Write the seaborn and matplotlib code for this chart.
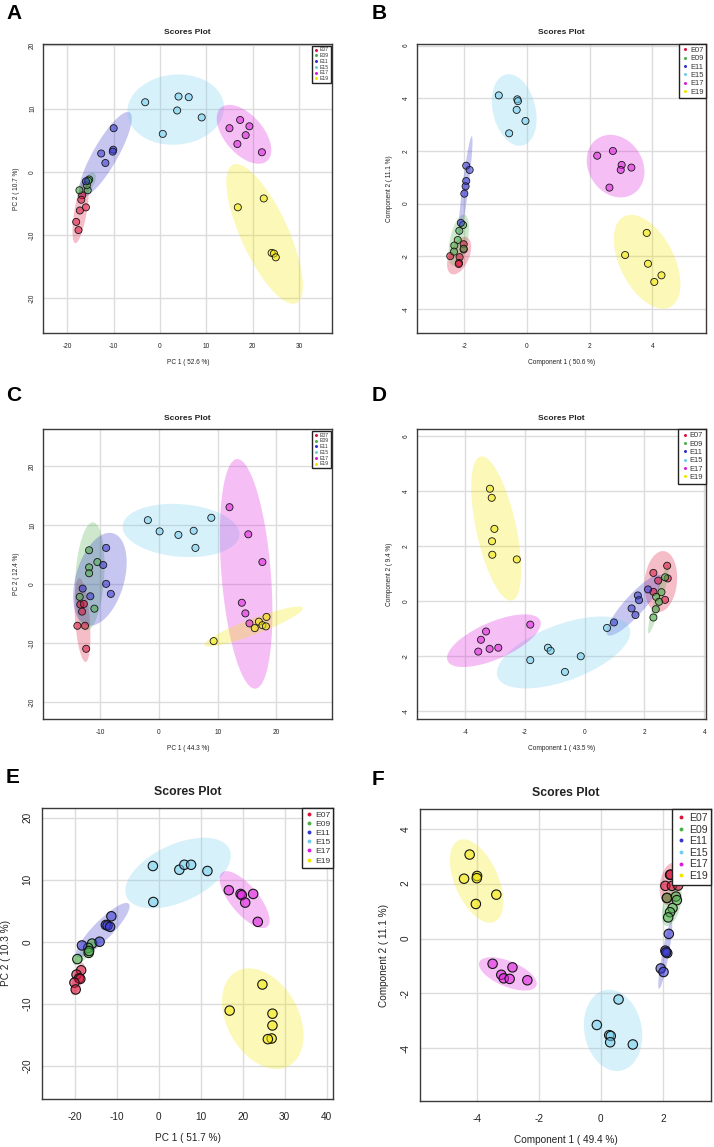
import numpy as np
import pandas as pd
import matplotlib
matplotlib.use("Agg")
import matplotlib.pyplot as plt
from matplotlib.colors import to_rgba
from matplotlib.lines import Line2D
import seaborn as sns

groups = ["E07", "E09", "E11", "E15", "E17", "E19"]
colors = ["#DC143C", "#4DAF4A", "#3535CF", "#72CDEE", "#DD1ADD", "#F2E600"]

# A: PCA
a_counts = [6, 5, 6, 6, 6, 5]
a_x = [-16.8, -17.0, -17.3, -16.0, -18.1, -17.6,
       -17.4, -15.6, -15.8, -15.3, -15.5,
       -10.0, -12.7, -10.1, -10.2, -11.8, -16.0,
       -3.2, 4.0, 6.2, 3.7, 9.0, 0.6,
       15.0, 17.3, 19.3, 18.5, 16.7, 22.0,
       16.8, 22.4, 24.1, 24.6, 25.0]
a_y = [-3.7, -4.4, -6.1, -5.6, -7.9, -9.2,
       -2.9, -2.9, -2.1, -1.2, -1.4,
       6.9, 2.9, 3.5, 3.2, 1.4, -1.5,
       11.0, 11.9, 11.8, 9.7, 8.6, 6.0,
       6.9, 8.2, 7.2, 5.8, 4.4, 3.1,
       -5.6, -4.2, -12.8, -12.9, -13.5]

# B: PLS-DA
b_counts = [6, 6, 6, 6, 6, 5]
b_x = [-2.02, -2.45, -2.15, -2.17, -2.18, -2.02,
       -2.04, -2.16, -2.21, -2.32, -2.33, -2.02,
       -1.94, -1.83, -1.94, -1.96, -2.00, -2.11,
       -0.90, -0.31, -0.29, -0.33, -0.05, -0.57,
       2.24, 2.74, 3.02, 2.99, 3.33, 2.63,
       3.82, 3.13, 3.86, 4.29, 4.06]
b_y = [-1.54, -1.99, -2.03, -2.25, -2.29, -1.74,
       -0.81, -1.03, -1.38, -1.59, -1.82, -1.71,
       1.44, 1.28, 0.86, 0.66, 0.38, -0.73,
       4.11, 3.96, 3.89, 3.56, 3.14, 2.67,
       1.82, 2.00, 1.47, 1.28, 1.37, 0.61,
       -1.11, -1.95, -2.28, -2.72, -2.97]

# C: PCA
c_counts = [6, 6, 6, 6, 6, 6]
c_x = [-13.9, -12.6, -12.4, -13.4, -12.8, -13.1,
       -11.9, -11.9, -11.9, -10.5, -13.5, -11.0,
       -9.0, -9.5, -9.0, -8.2, -11.7, -13.0,
       -1.9, 0.1, 3.3, 5.9, 6.2, 8.9,
       12.0, 15.2, 17.6, 14.1, 14.7, 15.4,
       9.3, 17.0, 18.3, 17.6, 18.2, 16.3]
c_y = [-7.0, -7.0, -10.9, -3.4, -3.3, -4.6,
       5.8, 2.9, 1.9, 3.8, -2.1, -4.1,
       6.2, 3.3, 0.1, -1.6, -2.0, -0.7,
       10.9, 9.0, 8.4, 9.1, 6.2, 11.3,
       13.1, 8.5, 3.8, -3.1, -4.9, -6.6,
       -9.6, -6.3, -5.5, -6.9, -7.1, -7.4]

# D: PLS-DA
d_counts = [6, 6, 6, 6, 6, 6]
d_x = [2.30, 2.76, 2.78, 2.46, 2.30, 2.69,
       2.69, 2.57, 2.39, 2.49, 2.38, 2.30,
       0.98, 1.57, 1.70, 1.78, 1.82, 2.12,
       -1.82, -1.23, -1.14, -0.66, -0.13, 0.75,
       -3.30, -3.47, -3.56, -3.18, -2.89, -1.82,
       -3.17, -3.11, -3.02, -3.10, -3.09, -2.27]
d_y = [1.03, 1.29, 0.83, 0.75, 0.34, 0.05,
       0.87, 0.33, 0.16, -0.02, -0.29, -0.59,
       -0.77, -0.26, -0.50, 0.21, 0.04, 0.43,
       -2.14, -1.69, -1.80, -2.57, -2.00, -0.97,
       -1.10, -1.40, -1.83, -1.73, -1.69, -0.85,
       4.09, 3.76, 2.63, 2.18, 1.69, 1.52]

# E: PCA
e_counts = [6, 5, 6, 6, 6, 6]
e_x = [-18.5, -19.6, -19.0, -18.7, -20.1, -19.8,
       -19.4, -15.9, -16.8, -16.7, -16.6,
       -18.3, -14.1, -11.3, -12.6, -12.2, -11.6,
       -1.4, -1.3, 4.9, 6.1, 7.7, 11.6,
       16.7, 19.5, 19.8, 22.5, 20.6, 23.6,
       24.7, 16.9, 27.1, 27.1, 26.9, 26.0]
e_y = [-4.6, -5.3, -5.9, -6.0, -6.6, -7.7,
       -2.8, -0.3, -1.0, -1.8, -1.5,
       -0.6, 0.0, 4.1, 2.7, 2.6, 2.4,
       12.2, 6.4, 11.6, 12.4, 12.4, 11.4,
       8.3, 7.7, 7.5, 7.7, 6.3, 3.2,
       -6.9, -11.1, -11.6, -13.5, -15.6, -15.7]

# F: PLS-DA
f_counts = [6, 6, 6, 6, 6, 6]
f_x = [2.23, 2.25, 2.08, 2.29, 2.49, 2.13,
       2.13, 2.42, 2.45, 2.31, 2.23, 2.17,
       2.19, 2.08, 2.14, 2.10, 1.93, 2.02,
       -0.13, 0.57, 0.27, 0.32, 0.30, 1.03,
       -3.49, -3.21, -3.13, -2.94, -2.85, -2.37,
       -4.23, -4.41, -3.99, -4.00, -4.03, -3.37]
f_y = [2.32, 2.33, 1.92, 1.92, 1.93, 1.48,
       1.48, 1.53, 1.40, 1.11, 0.96, 0.77,
       0.17, -0.44, -0.53, -0.50, -1.09, -1.22,
       -3.15, -2.22, -3.52, -3.55, -3.78, -3.86,
       -0.92, -1.32, -1.45, -1.47, -1.05, -1.52,
       3.06, 2.18, 2.28, 2.20, 1.26, 1.60]

x_labels = ["PC 1 ( 52.6 %)", "Component 1 ( 50.6 %)", "PC 1 ( 44.3 %)",
            "Component 1 ( 43.5 %)", "PC 1 ( 51.7 %)", "Component 1 ( 49.4 %)"]
y_labels = ["PC 2 ( 10.7 %)", "Component 2 ( 11.1 %)", "PC 2 ( 12.4 %)",
            "Component 2 ( 9.4 %)", "PC 2 ( 10.3 %)", "Component 2 ( 11.1 %)"]

sns.set_style("white")
plt.rcParams["font.family"] = ["Liberation Sans", "DejaVu Sans"]

W, H = 714, 1147
fig = plt.figure(figsize=(W / 100, H / 100), dpi=100)


def ellipse(x, y, level=0.95, n=120):
    # same as R ellipse::ellipse on the covariance matrix
    cov = np.cov(x, y)
    t = np.sqrt(-2 * np.log(1 - level))
    vals, vecs = np.linalg.eigh(cov)
    th = np.linspace(0, 2 * np.pi, n)
    circ = np.vstack([np.cos(th), np.sin(th)]) * np.sqrt(np.clip(vals, 0, None))[:, None]
    pts = vecs @ circ * t
    return pts[0] + np.mean(x), pts[1] + np.mean(y)


def panel(box, xs, ys, counts, xlab, ylab, xlim, ylim, xticks, yticks,
          letter, letter_xy, big):
    l, t, r, b = box
    ax = fig.add_axes([l / W, 1 - b / H, (r - l) / W, (b - t) / H])
    df = pd.DataFrame({"x": xs, "y": ys, "group": np.repeat(groups, counts)})

    for g, c in zip(groups, colors):
        sub = df[df["group"] == g]
        ex, ey = ellipse(sub["x"].values, sub["y"].values)
        ax.fill(ex, ey, color=c, alpha=0.28, lw=0, zorder=1)

    pal = {g: to_rgba(c, 0.55) for g, c in zip(groups, colors)}
    sns.scatterplot(data=df, x="x", y="y", hue="group", palette=pal,
                    s=46 if big else 26, edgecolor="#151515",
                    linewidth=0.8 if big else 0.6, legend=False, ax=ax, zorder=3)

    ax.set_xlim(xlim)
    ax.set_ylim(ylim)
    ax.set_xticks(xticks)
    ax.set_yticks(yticks)
    ax.set_xticklabels([f"{v:g}" for v in xticks])
    ax.set_yticklabels([f"{v:g}" for v in yticks])
    ax.grid(True, color="#dcdcdc", lw=1.0, zorder=0)
    ax.set_axisbelow(True)
    for sp in ax.spines.values():
        sp.set_color("#3a3a3a")
        sp.set_linewidth(1.0)
    ax.set_xlabel("")
    ax.set_ylabel("")

    fs = 7.2 if big else 4.7
    ax.tick_params(direction="out", length=3 if big else 2.2, width=0.8,
                   color="#3a3a3a", labelsize=fs, labelcolor="#222222")
    ax.tick_params(axis="x", pad=6 if big else 5)
    ax.tick_params(axis="y", pad=3.5 if big else 3)
    for lab in ax.get_yticklabels():
        lab.set_rotation(90)
        lab.set_va("center")

    cx = (l + r) / 2
    fig.text(cx / W, 1 - (t - (16 if big else 11)) / H, "Scores Plot",
             ha="center", va="center", fontsize=8.8 if big else 6,
             fontweight="bold", color="#222222")
    fig.text(cx / W, 1 - (b + (39 if big else 29)) / H, xlab,
             ha="center", va="center", fontsize=fs, color="#222222")
    ylx = l - (36 if big else 27)
    fig.text(ylx / W, 1 - ((t + b) / 2) / H, ylab, rotation=90,
             ha="center", va="center", fontsize=fs, color="#222222")
    fig.text(letter_xy[0] / W, 1 - letter_xy[1] / H, letter, ha="left",
             va="top", fontsize=15, fontweight="bold", color="black")

    handles = [Line2D([], [], ls="", marker="o", markersize=2.8 if big else 2.2,
                      markerfacecolor=c, markeredgewidth=0) for c in colors]
    lfs = {"A": 3.7, "C": 3.7, "B": 5.4, "D": 5.4, "E": 6.1, "F": 7.6}[letter]
    leg = ax.legend(handles, groups, loc="upper right", fontsize=lfs,
                    frameon=True, fancybox=False, framealpha=1,
                    borderaxespad=0 if letter not in "AC" else 0.3,
                    borderpad=0.35, labelspacing=0.15, handlelength=1.0,
                    handletextpad=0.2)
    leg.get_frame().set_edgecolor("#222222")
    leg.get_frame().set_linewidth(1.0)
    for txt in leg.get_texts():
        txt.set_color("#333333")
    leg.set_zorder(5)
    return ax


panel((43.3, 44, 332.3, 333.3), a_x, a_y, a_counts, x_labels[0], y_labels[0],
      (-25.2, 37.2), (-25.5, 20.2), [-20, -10, 0, 10, 20, 30], [-20, -10, 0, 10, 20],
      "A", (6, 4), False)
panel((417, 44, 706.3, 333.3), b_x, b_y, b_counts, x_labels[1], y_labels[1],
      (-3.51, 5.72), (-4.92, 6.06), [-2, 0, 2, 4], [-4, -2, 0, 2, 4, 6],
      "B", (372, 4), False)
panel((43.3, 429.3, 332.3, 719), c_x, c_y, c_counts, x_labels[2], y_labels[2],
      (-19.7, 29.5), (-22.8, 26.3), [-10, 0, 10, 20], [-20, -10, 0, 10, 20],
      "C", (6, 386), False)
panel((417, 429.3, 706, 719), d_x, d_y, d_counts, x_labels[3], y_labels[3],
      (-5.61, 4.06), (-4.28, 6.25), [-4, -2, 0, 2, 4], [-4, -2, 0, 2, 4, 6],
      "D", (372, 386), False)
panel((41.7, 807.7, 333.3, 1099.3), e_x, e_y, e_counts, x_labels[4], y_labels[4],
      (-27.9, 41.6), (-25.4, 21.6), [-20, -10, 0, 10, 20, 30, 40], [-20, -10, 0, 10, 20],
      "E", (6, 768), True)
panel((419.7, 809.3, 711.3, 1101), f_x, f_y, f_counts, x_labels[5], y_labels[5],
      (-5.84, 3.56), (-5.92, 4.71), [-4, -2, 0, 2], [-4, -2, 0, 2, 4],
      "F", (372, 770), True)

fig.savefig("out.png", dpi=100, facecolor="white")
